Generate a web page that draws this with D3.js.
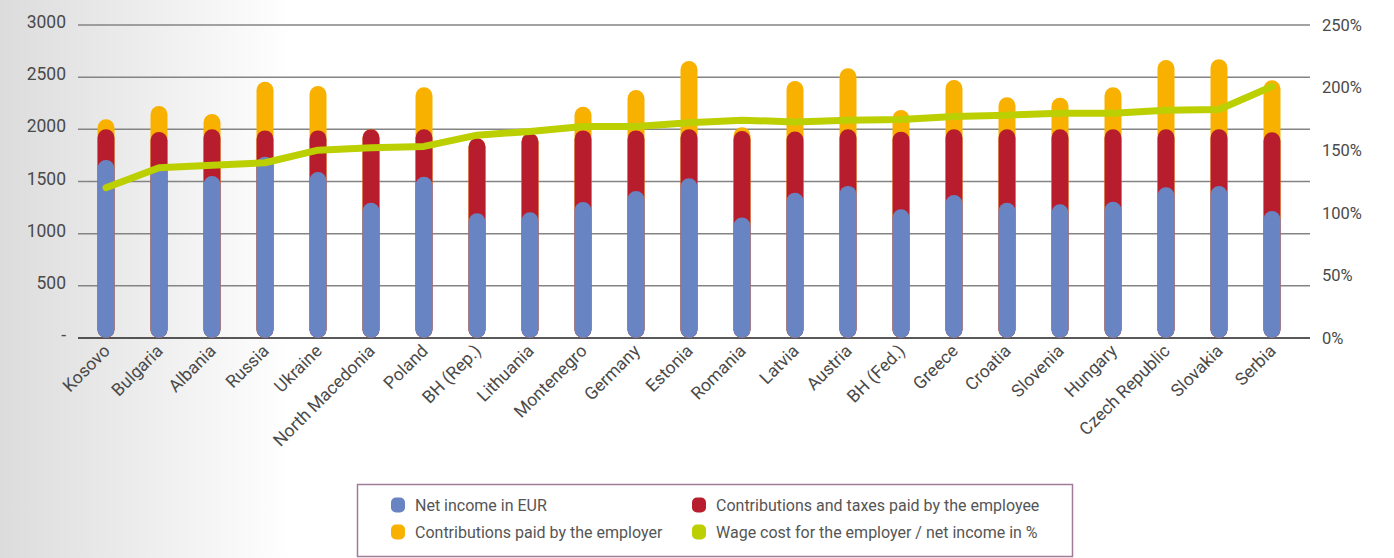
<!DOCTYPE html>
<html>
<head>
<meta charset="utf-8">
<script src="https://cdn.jsdelivr.net/npm/d3@7"></script>
<style>
  body { margin: 0; }
  svg { display: block; font-family: Roboto, "DejaVu Sans", sans-serif; }
</style>
</head>
<body>
<svg id="chart" width="1394" height="558"></svg>
<script>
const countries = ['Kosovo', 'Bulgaria', 'Albania', 'Russia', 'Ukraine', 'North Macedonia', 'Poland',
  'BH (Rep.)', 'Lithuania', 'Montenegro', 'Germany', 'Estonia', 'Romania', 'Latvia', 'Austria',
  'BH (Fed.)', 'Greece', 'Croatia', 'Slovenia', 'Hungary', 'Czech Republic', 'Slovakia', 'Serbia'];

// EUR
const netIncome = [1706, 1650, 1553, 1738, 1591, 1297, 1546, 1195, 1205, 1304, 1409, 1531,
  1155, 1393, 1458, 1234, 1371, 1297, 1282, 1307, 1444, 1457, 1217];
const employeeContrib = [294, 325, 447, 252, 399, 703, 454, 720, 757, 686, 581, 469,
  830, 587, 542, 744, 629, 703, 718, 693, 556, 543, 755];
const employerContrib = [96, 249, 147, 467, 425, 0, 404, 0, 0, 227, 387, 655,
  35, 483, 585, 207, 473, 307, 303, 403, 665, 671, 498];
// wage cost / net income, in %
const wageCostRatio = [120, 136, 138, 140, 150, 152, 153, 162, 165, 169, 169, 172,
  174, 172.5, 174, 174.5, 177, 178, 179.5, 179.5, 182, 182.5, 201];

const leftTicks = [0, 500, 1000, 1500, 2000, 2500, 3000];
const rightTicks = [0, 50, 100, 150, 200, 250];

const legendItems = [
  { label: 'Net income in EUR', color: '#6984c3' },
  { label: 'Contributions and taxes paid by the employee', color: '#b71d2d' },
  { label: 'Contributions paid by the employer', color: '#f9b100' },
  { label: 'Wage cost for the employer / net income in %', color: '#bccf00' }
];

const svg = d3.select('#chart');

// soft grey fade on the left side
const grad = svg.append('defs').append('linearGradient').attr('id', 'bg');
grad.append('stop').attr('offset', '0%').attr('stop-color', '#dcdcdc');
grad.append('stop').attr('offset', '21%').attr('stop-color', '#ffffff');
svg.append('rect').attr('width', 1394).attr('height', 558).attr('fill', 'url(#bg)');

const x = d3.scalePoint().domain(countries).range([106, 1272]);
const y = d3.scaleLinear().domain([0, 3000]).range([338, 25]);
const yPct = d3.scaleLinear().domain([0, 250]).range([338, 25]);

const gridLeft = 78, gridRight = 1310;
const textColor = '#4a4a4a';

// gridlines
svg.append('g')
  .selectAll('line')
  .data(leftTicks)
  .join('line')
  .attr('x1', gridLeft).attr('x2', gridRight)
  .attr('y1', d => y(d)).attr('y2', d => y(d))
  .attr('stroke', d => d === 0 ? '#222' : '#848484')
  .attr('stroke-width', 1.5);

// left axis labels
svg.append('g')
  .selectAll('text')
  .data(leftTicks)
  .join('text')
  .attr('x', 66)
  .attr('y', d => y(d) - 3)
  .attr('dy', '0.35em')
  .attr('text-anchor', 'end')
  .attr('font-size', 17.5)
  .attr('fill', textColor)
  .text(d => d === 0 ? '-' : d);

// right axis labels
svg.append('g')
  .selectAll('text')
  .data(rightTicks)
  .join('text')
  .attr('x', 1322)
  .attr('y', d => yPct(d))
  .attr('dy', '0.35em')
  .attr('font-size', 16.5)
  .attr('fill', textColor)
  .text(d => d + '%');

// bars: overlapping pills, tallest behind
const rows = countries.map((c, i) => ({
  country: c,
  net: netIncome[i],
  gross: netIncome[i] + employeeContrib[i],
  total: netIncome[i] + employeeContrib[i] + employerContrib[i]
}));
const barW = 17;
const layers = [
  { key: 'total', color: '#f9b100' },
  { key: 'gross', color: '#b71d2d' },
  { key: 'net', color: '#6984c3' }
];
layers.forEach(layer => {
  svg.append('g')
    .selectAll('rect')
    .data(rows)
    .join('rect')
    .attr('x', d => x(d.country) - barW / 2)
    .attr('y', d => y(d[layer.key]))
    .attr('width', barW)
    .attr('height', d => y(0) - y(d[layer.key]))
    .attr('rx', barW / 2)
    .attr('fill', layer.color);
});

// ratio line
const line = d3.line()
  .x((d, i) => x(countries[i]))
  .y(d => yPct(d));
svg.append('path')
  .attr('d', line(wageCostRatio))
  .attr('fill', 'none')
  .attr('stroke', '#bccf00')
  .attr('stroke-width', 7)
  .attr('stroke-linecap', 'round')
  .attr('stroke-linejoin', 'round');

// category labels
svg.append('g')
  .selectAll('text')
  .data(countries)
  .join('text')
  .attr('transform', d => `translate(${x(d) + 5},352) rotate(-45)`)
  .attr('text-anchor', 'end')
  .attr('font-size', 17.5)
  .attr('fill', textColor)
  .text(d => d);

// legend
const legend = svg.append('g');
legend.append('rect')
  .attr('x', 357.5).attr('y', 484.5)
  .attr('width', 715).attr('height', 72)
  .attr('fill', '#fff')
  .attr('stroke', '#a27b99')
  .attr('stroke-width', 1.5);

const item = legend.selectAll('g.item')
  .data(legendItems)
  .join('g')
  .attr('class', 'item')
  .attr('transform', (d, i) => `translate(${i % 2 === 0 ? 391 : 692},${i < 2 ? 505 : 532})`);
item.append('rect')
  .attr('x', 0).attr('y', -7.5)
  .attr('width', 14).attr('height', 15)
  .attr('rx', 5)
  .attr('fill', d => d.color);
item.append('text')
  .attr('x', 24)
  .attr('dy', '0.35em')
  .attr('font-size', 16)
  .attr('fill', '#555')
  .text(d => d.label);
</script>
</body>
</html>
